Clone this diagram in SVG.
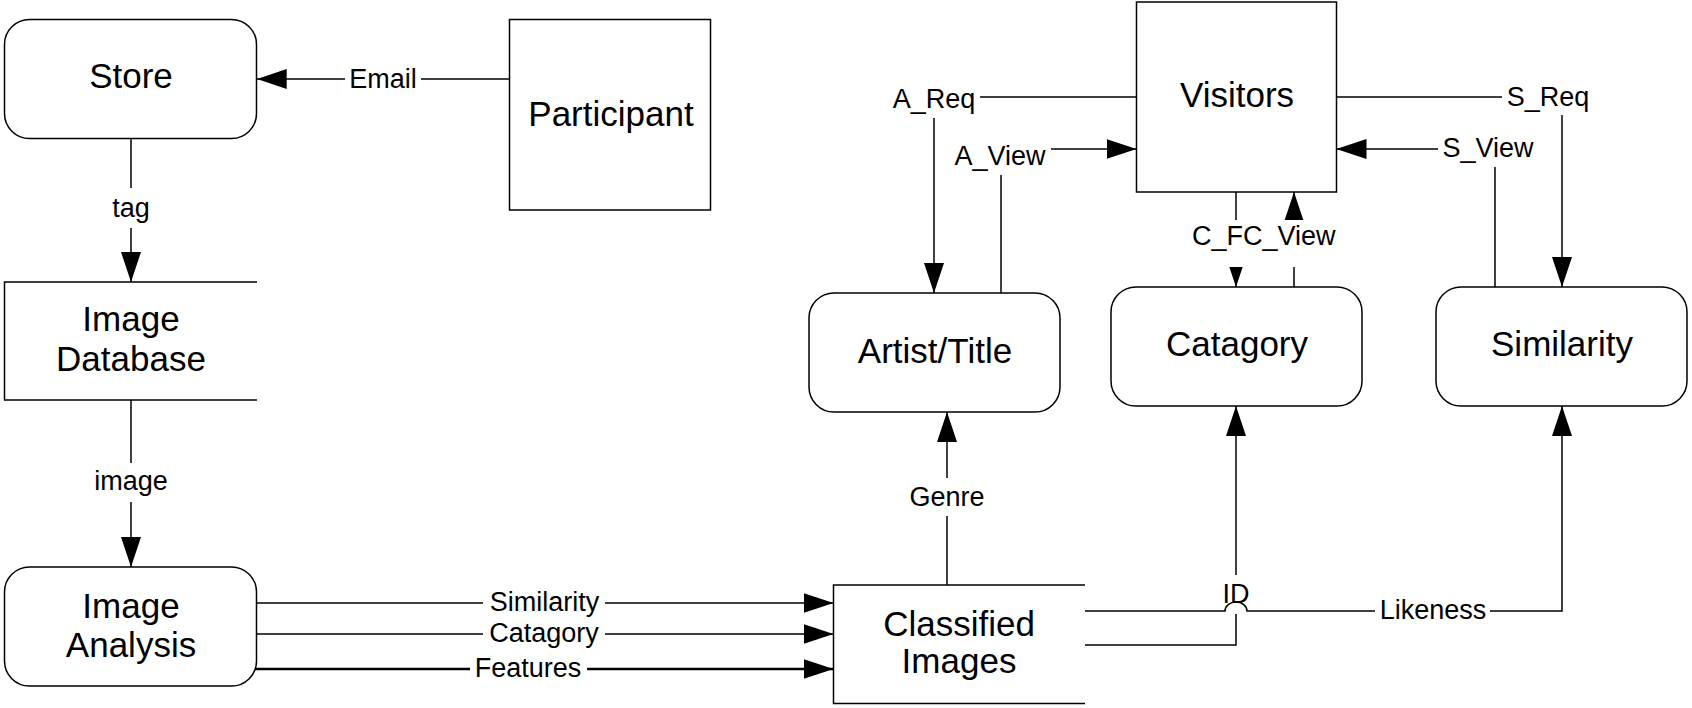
<svg xmlns="http://www.w3.org/2000/svg" width="1692" height="708" viewBox="0 0 1692 708">
<style>
.box{fill:#fff;stroke:#000;stroke-width:1.5}
.ds{fill:none;stroke:#000;stroke-width:1.5}
.ln{fill:none;stroke:#000;stroke-width:1.5}
.thick{stroke-width:2.5}
.nt{font-family:"Liberation Sans",Arial,sans-serif;font-size:35px;text-anchor:middle;fill:#000}
.lt{font-family:"Liberation Sans",Arial,sans-serif;font-size:27px;text-anchor:middle;fill:#000}
.ls{text-anchor:start}
</style>
<defs>
<marker id="ah" markerUnits="userSpaceOnUse" markerWidth="30" markerHeight="20" refX="30" refY="10" orient="auto" viewBox="0 0 30 20">
<path d="M0,0 L30,10 L0,20 z" fill="#000"/>
</marker>
</defs>
<rect width="1692" height="708" fill="#fff"/>

<g id="connectors">
<path class="ln" d="M509.5,79 H421"/>
<path class="ln" d="M345,79 H256.7" marker-end="url(#ah)"/>
<text class="lt" x="383" y="87.5">Email</text>

<path class="ln" d="M131,138.5 V188"/>
<path class="ln" d="M131,228 V282" marker-end="url(#ah)"/>
<text class="lt" x="131" y="217">tag</text>

<path class="ln" d="M131,400 V463"/>
<path class="ln" d="M131,502 V567" marker-end="url(#ah)"/>
<text class="lt" x="131" y="490">image</text>

<path class="ln" d="M256.5,603 H483"/>
<path class="ln" d="M605,603 H833.5" marker-end="url(#ah)"/>
<text class="lt" x="544.5" y="611">Similarity</text>

<path class="ln" d="M256.5,634 H483"/>
<path class="ln" d="M605,634 H833.5" marker-end="url(#ah)"/>
<text class="lt" x="544" y="642">Catagory</text>

<path class="ln thick" d="M254,669 H470"/>
<path class="ln thick" d="M587,669 H833.5" marker-end="url(#ah)"/>
<text class="lt" x="528" y="677">Features</text>

<path class="ln" d="M947,585 V516"/>
<path class="ln" d="M947,478 V412" marker-end="url(#ah)"/>
<text class="lt" x="947" y="506">Genre</text>

<path class="ln" d="M1085,645 H1236 V614"/>
<path class="ln" d="M1236,575 V406" marker-end="url(#ah)"/>
<path class="ln" d="M1085,611 H1225 A11 9 0 0 1 1247,611 H1375"/>
<path class="ln" d="M1490,611 H1562 V406" marker-end="url(#ah)"/>
<text class="lt" x="1236" y="603">ID</text>
<text class="lt" x="1433" y="619">Likeness</text>

<path class="ln" d="M1136.5,97 H980"/>
<path class="ln" d="M934,118 V293" marker-end="url(#ah)"/>
<text class="lt" x="934" y="108">A_Req</text>

<path class="ln" d="M1001,293 V175"/>
<path class="ln" d="M1051,149 H1136.5" marker-end="url(#ah)"/>
<text class="lt" x="1000" y="165">A_View</text>

<path class="ln" d="M1336.5,97 H1502"/>
<path class="ln" d="M1562,115 V287" marker-end="url(#ah)"/>
<text class="lt" x="1548" y="106">S_Req</text>

<path class="ln" d="M1495,287 V167"/>
<path class="ln" d="M1438,149 H1336.5" marker-end="url(#ah)"/>
<text class="lt" x="1488" y="157">S_View</text>

<path class="ln" d="M1236,192 V287" marker-end="url(#ah)"/>
<path class="ln" d="M1294,287 V192" marker-end="url(#ah)"/>
<rect x="1189" y="220" width="154" height="47" fill="#fff"/>
<text class="lt ls" x="1192" y="245">C_F</text>
<text class="lt ls" x="1243" y="245">C_View</text>
</g>

<g id="store">
<rect class="box" x="4.5" y="19.5" width="252" height="119" rx="25" ry="25"/>
<text class="nt" x="131" y="88">Store</text>
</g>
<g id="participant">
<rect class="box" x="509.5" y="19.5" width="201" height="190.5"/>
<text class="nt" x="611" y="126">Participant</text>
</g>
<g id="image-database">
<path class="ds" d="M257,282 H4.5 V400 H257"/>
<text class="nt" x="131" y="331">Image</text>
<text class="nt" x="131" y="371">Database</text>
</g>
<g id="image-analysis">
<rect class="box" x="4.5" y="567" width="252" height="119" rx="25" ry="25"/>
<text class="nt" x="131" y="618">Image</text>
<text class="nt" x="131" y="657">Analysis</text>
</g>
<g id="classified-images">
<path class="ds" d="M1085,585 H833.5 V703.5 H1085"/>
<text class="nt" x="959" y="636">Classified</text>
<text class="nt" x="959" y="673">Images</text>
</g>
<g id="artist-title">
<rect class="box" x="809" y="293" width="251" height="119" rx="25" ry="25"/>
<text class="nt" x="935" y="363">Artist/Title</text>
</g>
<g id="catagory">
<rect class="box" x="1111" y="287" width="251" height="119" rx="25" ry="25"/>
<text class="nt" x="1237" y="356">Catagory</text>
</g>
<g id="similarity">
<rect class="box" x="1436" y="287" width="251" height="119" rx="25" ry="25"/>
<text class="nt" x="1562" y="356">Similarity</text>
</g>
<g id="visitors">
<rect class="box" x="1136.5" y="2" width="200" height="190"/>
<text class="nt" x="1237" y="107">Visitors</text>
</g>
</svg>
